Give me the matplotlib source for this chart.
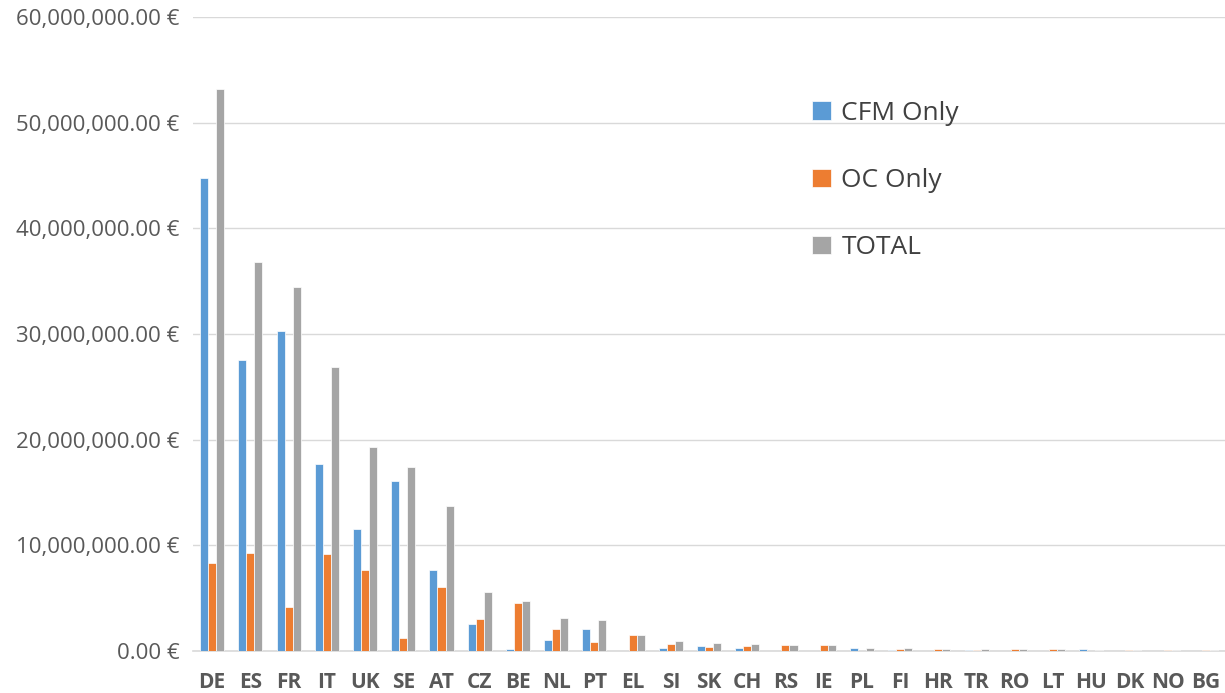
import numpy as np
import matplotlib.pyplot as plt
from matplotlib.ticker import FuncFormatter

# Funding per country (EUR)
countries = ["DE", "ES", "FR", "IT", "UK", "SE", "AT", "CZ", "BE", "NL", "PT",
             "EL", "SI", "SK", "CH", "RS", "IE", "PL", "FI", "HR", "TR", "RO",
             "LT", "HU", "DK", "NO", "BG"]
cfm_only = [44.8, 27.5, 30.3, 17.7, 11.5, 16.1, 7.7, 2.6, 0.2, 1.0, 2.1,
            0.0, 0.3, 0.5, 0.25, 0.0, 0.0, 0.3, 0.1, 0.0, 0.1, 0.0,
            0.0, 0.15, 0.0, 0.0, 0.0]
oc_only = [8.3, 9.3, 4.2, 9.2, 7.7, 1.2, 6.1, 3.0, 4.5, 2.1, 0.85,
           1.5, 0.7, 0.35, 0.45, 0.6, 0.55, 0.0, 0.18, 0.2, 0.05, 0.15,
           0.15, 0.0, 0.05, 0.05, 0.05]
total = [53.2, 36.8, 34.4, 26.9, 19.3, 17.4, 13.7, 5.6, 4.7, 3.1, 2.9,
         1.5, 0.95, 0.8, 0.7, 0.6, 0.55, 0.3, 0.3, 0.2, 0.15, 0.15,
         0.15, 0.12, 0.05, 0.05, 0.05]
series = [("CFM Only", cfm_only, "#5b9bd5"),
          ("OC Only", oc_only, "#ed7d31"),
          ("TOTAL", total, "#a5a5a5")]

fig = plt.figure(figsize=(12.25, 6.93), dpi=100)
ax = fig.add_axes([0.1576, 0.0606, 0.8424, 0.9149])

x = np.arange(len(countries))
w = 0.21
for i, (name, vals, col) in enumerate(series):
    ax.bar(x + (i - 1) * w, np.array(vals) * 1e6, w, color=col,
           edgecolor="white", linewidth=0.5, label=name, zorder=3)

ax.set_xlim(-0.5, len(countries) - 0.5)
ax.set_ylim(0, 60e6)
ax.set_yticks(np.arange(0, 60e6 + 1, 10e6))
ax.yaxis.set_major_formatter(FuncFormatter(lambda v, p: f"{v:,.2f} €"))
ax.grid(axis="y", color="#d9d9d9", linewidth=1, zorder=0)
ax.set_axisbelow(True)
for s in ["left", "right", "top"]:
    ax.spines[s].set_visible(False)
ax.spines["bottom"].set_color("#d9d9d9")
ax.spines["bottom"].set_linewidth(1.2)

ax.set_xticks(x)
ax.set_xticklabels(countries, fontsize=15, fontweight="bold",
                   family="Open Sans", color="#595959")
ax.tick_params(axis="x", length=0, pad=15)
ax.tick_params(axis="y", length=0, pad=10, labelsize=16, labelcolor="#595959")
for lab in ax.get_yticklabels():
    lab.set_family("Open Sans")

leg = ax.legend(loc="upper left", bbox_to_anchor=(0.577, 0.905), frameon=False,
                prop={"family": "Open Sans", "size": 19}, labelspacing=1.6,
                handlelength=0.7, handleheight=0.7, handletextpad=0.4)
for t in leg.get_texts():
    t.set_color("#404040")

fig.savefig("out.png", dpi=100)
